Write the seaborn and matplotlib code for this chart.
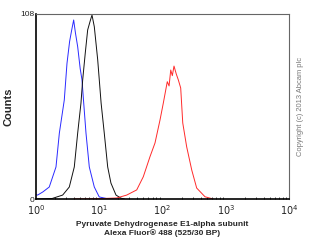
import matplotlib
matplotlib.use("Agg")
import matplotlib.pyplot as plt
import seaborn as sns
import pandas as pd
import numpy as np

sns.set_style("white")
plt.rcParams['font.family'] = ['Liberation Sans', 'DejaVu Sans']

# Fluorescence intensity (x) and counts (y)
blue_x = [1.0, 1.06, 1.28, 1.62, 2.07, 2.34, 2.80, 3.09, 3.40, 3.67, 3.94, 4.20, 4.56, 5.00, 5.33, 5.68, 6.17, 6.96, 8.35, 10.0, 13.0, 20.0]
blue_y = [2.5, 2.3, 4.1, 7.0, 18.7, 38.5, 57.8, 79.2, 92.0, 98.7, 104.5, 97.0, 88.9, 76.0, 69.7, 56.0, 38.5, 18.7, 7.0, 1.2, 0.3, 0.0]

black_x = [1.0, 1.8, 2.64, 3.36, 4.03, 4.56, 5.14, 5.47, 6.01, 6.56, 7.20, 7.68, 8.35, 9.45, 10.7, 12.0, 13.6, 15.3, 18.4, 22.0, 25.0]
black_y = [0.0, 0.3, 2.3, 7.0, 18.7, 38.5, 56.0, 69.5, 85.2, 98.7, 104.0, 107.4, 100.6, 81.3, 56.0, 38.5, 18.7, 9.3, 2.3, 0.5, 0.0]

red_x = [4.0, 10.0, 18.9, 27.2, 39.1, 49.7, 63.4, 76.1, 91.3, 103, 119, 127, 135, 143, 152, 165, 178, 194, 209, 241, 290, 347, 470, 635]
red_y = [0.0, 0.2, 0.6, 2.3, 5.3, 13.0, 24.7, 32.7, 46.1, 56.0, 68.5, 66.0, 75.3, 72.0, 77.6, 73.0, 69.5, 64.8, 44.4, 30.5, 16.9, 6.4, 1.3, 0.0]

series = [("blue", blue_x, blue_y, "#2a2aff"),
          ("black", black_x, black_y, "#111111"),
          ("red", red_x, red_y, "#ff2a2a")]

fig = plt.figure(figsize=(3.10, 2.49), dpi=100)
ax = fig.add_axes([36/310, 1-199/249, (289-36)/310, (199-14)/249])

for name, xs, ys, col in series:
    df = pd.DataFrame({"x": xs, "y": ys})
    sns.lineplot(data=df, x="x", y="y", ax=ax, color=col, lw=0.7, sort=False, estimator=None)

ax.set_xscale("log")
ax.set_xlim(1, 1e4)
ax.set_ylim(0, 108)
ax.set_yticks([0, 27, 54, 81, 108])
ax.set_yticklabels(["0", "", "", "", "108"])
ax.set_xticks([1, 10, 100, 1000, 10000])
ax.set_xticklabels([r"$10^{0}$", r"$10^{1}$", r"$10^{2}$", r"$10^{3}$", r"$10^{4}$"])
ax.tick_params(axis="y", direction="in", length=2, labelsize=6, pad=1, colors="#222222")
ax.tick_params(axis="x", which="major", direction="in", length=3, labelsize=7, pad=3, colors="#222222")
ax.tick_params(axis="x", which="minor", direction="in", length=1.5, bottom=True)
ax.xaxis.set_minor_locator(matplotlib.ticker.LogLocator(base=10, subs=np.arange(2, 10)))

for s in ["left", "bottom"]:
    ax.spines[s].set_color("black")
    ax.spines[s].set_linewidth(1.2)
for s in ["top", "right"]:
    ax.spines[s].set_color("#666666")
    ax.spines[s].set_linewidth(0.8)

ax.set_ylabel("Counts", fontsize=8, fontweight="bold")
ax.yaxis.set_label_coords(-22.5/253, 0.5)
ax.set_xlabel("Pyruvate Dehydrogenase E1-alpha subunit\nAlexa Fluor® 488 (525/30 BP)",
              fontsize=6, fontweight="bold", labelpad=3, linespacing=1.15)

fig.text(301/310, 1-106/249, "Copyright (c) 2013 Abcam plc", rotation=90,
         fontsize=5.4, color="#777777", ha="center", va="center")

fig.savefig("out.png", dpi=100)
